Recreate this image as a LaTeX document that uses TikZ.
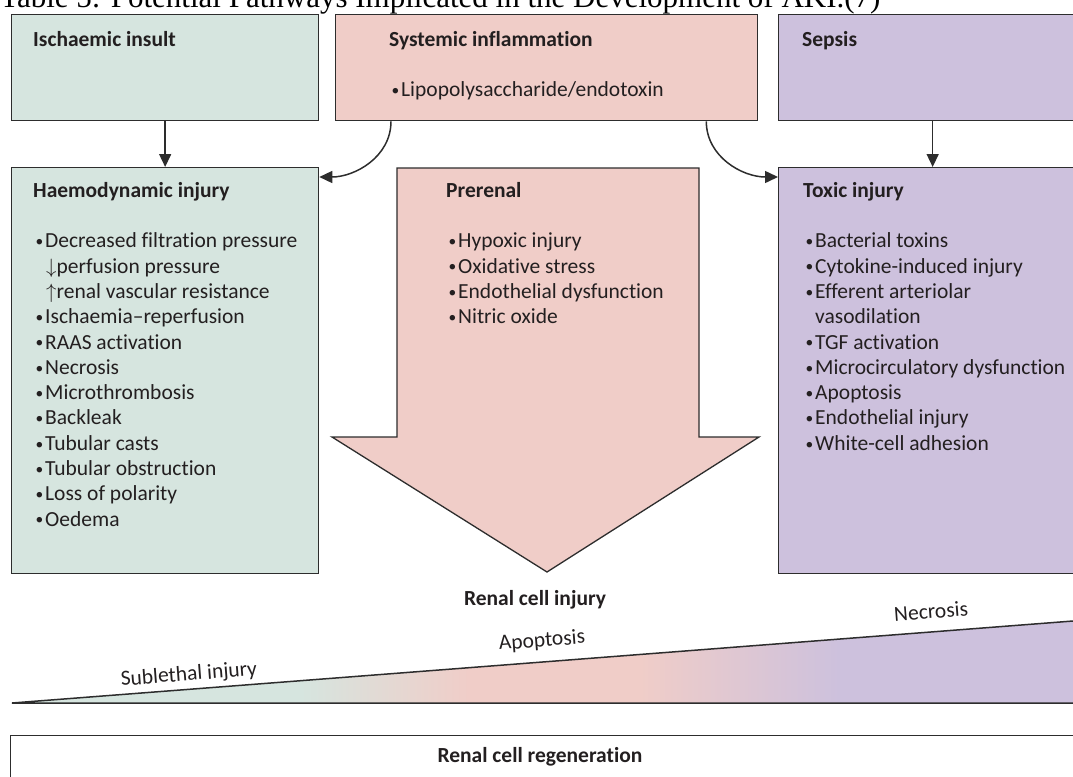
\documentclass[tikz,border=0pt]{standalone}
\usepackage{fontspec}
\setmainfont{Carlito}[Ligatures={TeX,CommonOff}]
\newfontfamily\titlefont{Liberation Serif}
\usepackage{tikz}
\usetikzlibrary{arrows.meta,positioning}
\usepackage{xcolor}
\definecolor{ischgreen}{RGB}{214,229,223}
\definecolor{inflpink}{RGB}{240,205,200}
\definecolor{sepspurple}{RGB}{205,193,221}
\definecolor{linegray}{RGB}{45,45,45}
\definecolor{textdark}{RGB}{35,31,32}
\pgfdeclarehorizontalshading{injuryramp}{100bp}{color(0bp)=(ischgreen); color(38.4bp)=(ischgreen); color(46.3bp)=(inflpink); color(54.2bp)=(inflpink); color(63.5bp)=(sepspurple); color(100bp)=(sepspurple)}
\newcommand{\bodysize}{\fontsize{21.5}{25.3}\selectfont}
\newcommand{\blt}{\hspace*{2.5pt}\makebox[9.5pt][l]{\raisebox{1.2pt}{\scalebox{0.72}{\textbullet}}}}

\begin{document}
\begin{tikzpicture}[x=1pt,y=-1pt,
	panel/.style={draw=linegray,line width=1.3pt,anchor=north west,inner sep=0pt},
	txt/.style={inner sep=0pt,align=left,font=\bodysize,text=textdark},
	flow/.style={draw=linegray,line width=1.5pt,-{Triangle[length=13pt,width=12pt]}}]
	\useasboundingbox (0,0) rectangle (1073,776);
	\clip (0,0) rectangle (1073,776);
	\node [anchor=base west,inner sep=0pt] (title) at (0,8) {\titlefont\fontsize{31}{36}\selectfont Table 5: Potential Pathways Implicated in the Development of AKI.(7)};
	% causes
	\node [panel,fill=ischgreen,minimum width=307pt,minimum height=106pt] (isch) at (11,14) {};
	\node [panel,fill=inflpink,minimum width=422pt,minimum height=106pt] (syst) at (335,14) {};
	\node [panel,fill=sepspurple,minimum width=308pt,minimum height=106pt] (sepsis) at (778,14) {};
	\node [txt,below right=17pt and 22pt of isch.north west] (ischtxt) {\textbf{Ischaemic insult}};
	\node [txt,below right=17pt and 54pt of syst.north west] (systtxt) {\textbf{Systemic inflammation}\\[25.3pt]\blt Lipopolysaccharide/endotoxin};
	\node [txt,below right=17pt and 24pt of sepsis.north west] (sepsistxt) {\textbf{Sepsis}};
	% injuries
	\node [panel,fill=ischgreen,minimum width=307pt,minimum height=406pt] (haem) at (11,167) {};
	\node [panel,fill=sepspurple,minimum width=308pt,minimum height=406pt] (toxic) at (778,167) {};
	\draw [draw=linegray,line width=1.3pt,fill=inflpink] (397,168) coordinate (shaft) -- (699,168) -- (699,437) -- (759,437) -- (547,572) coordinate (tip) -- (332,437) -- (397,437) -- cycle;
	\node [txt,below right=15pt and 22pt of haem.north west] (haemtxt) {\textbf{Haemodynamic injury}\\[25.3pt]
		\blt Decreased filtration pressure\\
		\hspace*{13pt}$\downarrow$perfusion pressure\\
		\hspace*{13pt}$\uparrow$renal vascular resistance\\
		\blt Ischaemia–reperfusion\\
		\blt RAAS activation\\
		\blt Necrosis\\
		\blt Microthrombosis\\
		\blt Backleak\\
		\blt Tubular casts\\
		\blt Tubular obstruction\\
		\blt Loss of polarity\\
		\blt Oedema};
	\node [txt,below right=14pt and 49pt of shaft] (prertxt) {\textbf{Prerenal}\\[25.3pt]
		\blt Hypoxic injury\\
		\blt Oxidative stress\\
		\blt Endothelial dysfunction\\
		\blt Nitric oxide};
	\node [txt,below right=15pt and 25pt of toxic.north west] (toxictxt) {\textbf{Toxic injury}\\[25.3pt]
		\blt Bacterial toxins\\
		\blt Cytokine-induced injury\\
		\blt Efferent arteriolar\\
		\hspace*{12pt}vasodilation\\
		\blt TGF activation\\
		\blt Microcirculatory dysfunction\\
		\blt Apoptosis\\
		\blt Endothelial injury\\
		\blt White-cell adhesion};
	\draw [flow] (isch) -- (haem);
	\draw [flow] (sepsis) -- (toxic);
	\draw [flow] ([xshift=56pt]syst.south west) to[out=-90,in=0] ([yshift=-10pt]haem.north east);
	\draw [flow] ([xshift=-52pt]syst.south east) to[out=-90,in=180] ([yshift=-10pt]toxic.north west);
	% renal cell injury scale
	\node [txt,font={\bodysize\bfseries}] (injury) at (535,600) {Renal cell injury};
	\shade [shading=injuryramp] (12,703) coordinate (wedge) -- (1086,620) -- (1086,703) -- cycle;
	\draw [draw=linegray,line width=1.5pt] (1086,620) -- (wedge) -- (1086,703);
	\node [txt,rotate=4.4] (sublethal) at (189,675) {Sublethal injury};
	\node [txt,rotate=4.4] (apoptosis) at (542,641) {Apoptosis};
	\node [txt,rotate=4.4] (necrosis) at (931,611) {Necrosis};
	% regeneration
	\node [panel,fill=white,minimum width=1080pt,minimum height=70pt] (regen) at (10,735) {};
	\node [txt,font={\bodysize\bfseries}] (regentxt) at (540,757) {Renal cell regeneration};
\end{tikzpicture}
\end{document}
